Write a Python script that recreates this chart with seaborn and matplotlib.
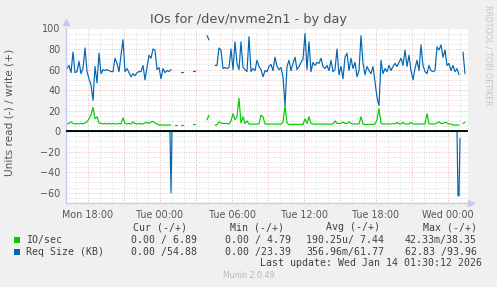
import numpy as np
import pandas as pd
import matplotlib
matplotlib.use("Agg")
import matplotlib.pyplot as plt
import matplotlib.dates as mdates
from matplotlib.ticker import MultipleLocator, FuncFormatter
import seaborn as sns

nan = np.nan

# ---------------- data ----------------
# write side (+): 10-minute samples starting Mon 2026-01-12 16:15
write_start = "2026-01-12 16:15"
write_freq = "10min"

req_size_write = [
    61, 64, 57, 77, 57, 58, 68, 56, 61, 81,
    58, 51, 45, 30, 63, 47, 76, 56, 60, 59,
    60, 59, 58, 58, 71, 66, 58, 74, 89, 58,
    61, 57, 53, 56, 54, 57, 58, 58, 64, 50,
    62, 74, 71, 80, 79, 60, 62, 51, 61, 57,
    59, 58, 60, nan, nan, nan, nan, 58, 58, nan,
    nan, nan, nan, 59, 59, nan, nan, nan, nan, nan,
    93, 89, nan, nan, 64, 64, 81, 79, 61, 62,
    61, 62, 80, 60, 87, 66, 60, 87, 62, 60,
    58, 92, 58, 61, 59, 69, 63, 60, 53, 59,
    58, 63, 65, 59, 72, 63, 60, 62, 53, 25,
    63, 69, 59, 66, 72, 60, 63, 67, 70, 95,
    60, 87, 58, 67, 64, 67, 66, 71, 63, 61,
    64, 59, 69, 58, 60, 80, 55, 63, 51, 72,
    76, 59, 71, 61, 67, 53, 59, 93, 66, 55,
    63, 59, 56, 63, 48, 33, 25, 69, 56, 61,
    58, 64, 59, 63, 66, 63, 67, 71, 64, 79,
    63, 74, 59, 50, 61, 69, 59, 84, 64, 58,
    56, 64, 59, 58, 59, 82, 79, 84, 72, 79,
    64, 66, 59, 64, 58, 61, 55, nan, 77, 56,
]

io_sec_write = [
    7, 7.5, 9, 7.5, 7, 7.5, 7, 7.5, 7, 8,
    9, 12, 16, 23, 12, 14, 8, 7.5, 7, 7.5,
    7, 7.5, 7, 7.5, 7, 7, 7.5, 7, 13, 7.5,
    7, 7.5, 7, 9, 7.5, 7, 7.5, 7, 7, 8,
    8.5, 7.5, 9, 9.5, 8, 7, 6, 6, 6, 6,
    6, 6, 6, nan, 6, 6, nan, 6, 6, nan,
    nan, nan, nan, 6.5, 6.5, nan, nan, nan, nan, nan,
    11, 15.6, nan, nan, 6, 6, 9, 8, 7.5, 7.5,
    7.5, 7, 10, 17, 11, 14, 32, 8, 14, 7.5,
    10, 7, 6.8, 6.8, 6.8, 7, 7, 15.6, 14, 7,
    6.8, 6.8, 7, 6.8, 7, 6.8, 7, 6.8, 9, 25,
    8, 6.5, 6.5, 6.5, 6.8, 6.5, 6.5, 6.8, 6.5, 12,
    7.5, 14, 7.5, 6.8, 6.8, 6.8, 7, 6.8, 6.8, 7,
    6.8, 6.8, 6.8, 7, 10, 7.5, 7.5, 7.5, 9, 7.5,
    7.5, 9, 7.5, 7, 7, 7, 7, 14, 7, 6.5,
    6.5, 6.5, 6.5, 6.5, 7, 11, 22, 7.5, 7, 7,
    7, 7, 7, 7.5, 7, 8.5, 7, 7, 8.5, 7,
    7, 7, 8.5, 7, 7, 7, 7, 7, 7, 7,
    17, 7, 7, 7, 7, 8, 9, 7.5, 7.5, 8.5,
    8, 7, 7, 6, 6, 6, 6, nan, 7.5, 8.5,
]

# read side (-): 5-minute samples, zero except these values
read_start = "2026-01-12 16:15"
read_end = "2026-01-14 01:25"
read_freq = "5min"
req_size_read_points = {
    "2026-01-13 00:55": -60.0,
    "2026-01-14 00:50": -63.0,
    "2026-01-14 00:55": -63.0,
    "2026-01-14 01:00": -7.0,
}
read_missing = ["2026-01-14 01:05", "2026-01-14 01:10"]

title = "IOs for /dev/nvme2n1 - by day"
ylabel = "Units read (-) / write (+)"
x_start, x_end = "2026-01-12 16:10", "2026-01-14 01:40"
y_min, y_max = -70, 100

series_names = ["IO/sec", "Req Size (KB)"]
series_colors = ["#00CC00", "#0066B3"]
col_headers = ["Cur (-/+)", "Min (-/+)", "Avg (-/+)", "Max (-/+)"]
cur_vals = ["0.00 / 6.89", "0.00 /54.88"]
min_vals = ["0.00 / 4.79", "0.00 /23.39"]
avg_vals = ["190.25u/ 7.44", "356.96m/61.77"]
max_vals = ["42.33m/38.35", "62.83 /93.96"]
last_update = "Last update: Wed Jan 14 01:30:12 2026"
footer = "Munin 2.0.49"
side_text = "RRDTOOL / TOBI OETIKER"

# ---------------- build tables ----------------
wt = pd.date_range(write_start, periods=len(req_size_write), freq=write_freq)
rt = pd.date_range(read_start, read_end, freq=read_freq)
req_read = pd.Series(0.0, index=rt)
for t, v in req_size_read_points.items():
    req_read[pd.Timestamp(t)] = v
io_read = pd.Series(0.0, index=rt)
for t in read_missing:
    req_read[pd.Timestamp(t)] = nan
    io_read[pd.Timestamp(t)] = nan


def seg_frame(times, values):
    df = pd.DataFrame({"time": times, "value": np.asarray(values, dtype=float)})
    df["seg"] = df["value"].isna().cumsum()
    return df.dropna()


# ---------------- figure ----------------
sns.set_style("white")
plt.rcParams["font.family"] = ["DejaVu Sans"]
BG = "#F0F0F0"
W, H = 497, 287
fig = plt.figure(figsize=(W / 100, H / 100), dpi=100, facecolor=BG)
L, R, T, B = 66, 468, 28.5, 203
ax = fig.add_axes([L / W, 1 - B / H, (R - L) / W, (B - T) / H])
ax.set_facecolor("white")

for spine in ["top", "right"]:
    ax.spines[spine].set_visible(False)
for spine in ["left", "bottom"]:
    ax.spines[spine].set_color("#c8c8f4")
    ax.spines[spine].set_linewidth(1.0)

ax.set_xlim(pd.Timestamp(x_start), pd.Timestamp(x_end))
ax.set_ylim(y_min, y_max)

# grid
ax.xaxis.set_major_locator(mdates.HourLocator(byhour=range(0, 24, 3)))
ax.xaxis.set_minor_locator(mdates.HourLocator())


def xfmt(x, pos):
    d = mdates.num2date(x)
    return d.strftime("%a %H:%M") if d.hour % 6 == 0 else ""


ax.xaxis.set_major_formatter(FuncFormatter(xfmt))
ax.yaxis.set_major_locator(MultipleLocator(20))
ax.yaxis.set_minor_locator(MultipleLocator(5))
ax.grid(which="minor", color="#d4d4d4", linestyle=(0, (1, 2)), linewidth=0.6)
ax.grid(which="major", color="#e6a0a0", linestyle=(0, (1, 2)), linewidth=0.6)
ax.set_axisbelow(True)
ax.tick_params(which="both", length=0, labelsize=6.9, colors="#555555")
ax.tick_params(axis="x", pad=5)
ax.tick_params(axis="y", pad=4)

# series
for times, vals, col in [
    (rt, io_read.values, series_colors[0]),
    (wt, io_sec_write, series_colors[0]),
    (rt, req_read.values, series_colors[1]),
    (wt, req_size_write, series_colors[1]),
]:
    df = seg_frame(times, vals)
    sns.lineplot(data=df, x="time", y="value", units="seg", estimator=None,
                 color=col, linewidth=0.85, ax=ax, legend=False, sort=False)

ax.axhline(0, color="black", linewidth=1.3, zorder=3)
ax.set_xlabel("")
ax.set_ylabel("")

# axis arrows
ax.plot([0], [1.035], marker="^", color="#c8c8f4", markersize=4.5,
        transform=ax.transAxes, clip_on=False)
ax.plot([1.008], [0], marker=">", color="#c8c8f4", markersize=4.5,
        transform=ax.transAxes, clip_on=False)

# texts
def fx(x):
    return x / W


def fy(y):
    return 1 - y / H


fig.text(fx(248), fy(19), title, ha="center", va="center", fontsize=9.3, color="#505050")
fig.text(fx(10), fy(112), ylabel, ha="center", va="center", rotation=90,
         fontsize=7.6, color="#555555")
fig.text(fx(488), fy(5), side_text, ha="center", va="top", rotation=270,
         fontsize=5.7, color="#c4c4c4")

mono = dict(family="DejaVu Sans Mono", fontsize=7.1, color="#404040")
header_right = [187, 284, 380, 477]
value_right = [197, 291, 384, 477]
for h, xr in zip(col_headers, header_right):
    fig.text(fx(xr), fy(227), h, ha="right", va="center", **mono)
rows_y = [240, 252]
for i, (name, col) in enumerate(zip(series_names, series_colors)):
    y = rows_y[i]
    fig.patches.append(plt.Rectangle((fx(14), fy(y + 3)), 6 / W, 6 / H,
                                     transform=fig.transFigure, facecolor=col,
                                     edgecolor="none"))
    fig.text(fx(26), fy(y), name, ha="left", va="center", **mono)
    for vals, xr in zip([cur_vals, min_vals, avg_vals, max_vals], value_right):
        fig.text(fx(xr), fy(y), vals[i], ha="right", va="center", **mono)
fig.text(fx(482), fy(263.5), last_update, ha="right", va="center", **mono)
fig.text(fx(249), fy(276), footer, ha="center", va="center", fontsize=5.7, color="#b8b8b8")

fig.savefig("out.png", dpi=100, facecolor=BG)
